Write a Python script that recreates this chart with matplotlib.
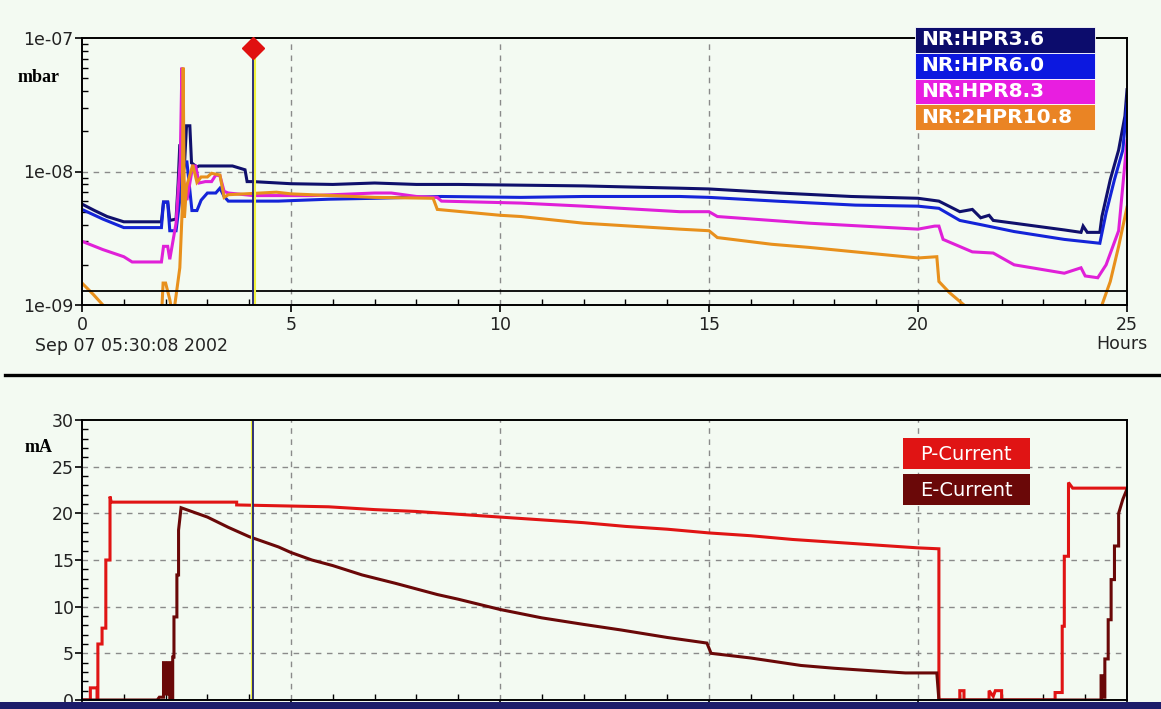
import numpy as np
import matplotlib.pyplot as plt
from matplotlib.patches import Rectangle
from matplotlib.lines import Line2D
from matplotlib.ticker import MultipleLocator, FixedLocator, LogLocator, FuncFormatter, NullFormatter

W, H = 1161, 709
BG = '#f3faf2'

# ---- pressure gauges (hours, mbar) ----
hpr36_t = [0, 0.3, 0.6, 1.0, 1.9, 1.95, 2.05, 2.1, 2.25, 2.3, 2.34, 2.38, 2.45, 2.5, 2.58, 2.62,
           2.75, 2.8, 3.6, 3.9, 3.95, 4.1, 5.0, 6.0, 7.0, 8.0, 9.0, 10.5, 12.0, 13.5, 14.3, 15.0,
           16.7, 18.4, 20.0, 20.5, 21.0, 21.3, 21.5, 21.7, 21.8, 22.3, 23.5, 23.9, 23.95, 24.05,
           24.35, 24.4, 24.6, 24.8, 24.95, 25.0]
hpr36_v = [5.7e-9, 5.1e-9, 4.6e-9, 4.2e-9, 4.2e-9, 5.9e-9, 5.9e-9, 4.3e-9, 4.4e-9, 8.2e-9, 1.6e-8,
           8.5e-9, 1.1e-8, 2.2e-8, 2.2e-8, 1.16e-8, 1.08e-8, 1.1e-8, 1.1e-8, 1.03e-8, 8.4e-9,
           8.4e-9, 8.1e-9, 8.0e-9, 8.2e-9, 8.0e-9, 8.0e-9, 7.9e-9, 7.8e-9, 7.6e-9, 7.5e-9, 7.4e-9,
           6.9e-9, 6.5e-9, 6.3e-9, 6.0e-9, 5.0e-9, 5.2e-9, 4.5e-9, 4.7e-9, 4.3e-9, 4.1e-9, 3.65e-9,
           3.5e-9, 3.9e-9, 3.5e-9, 3.5e-9, 4.6e-9, 8.7e-9, 1.45e-8, 2.6e-8, 4.1e-8]

hpr60_t = [0, 0.5, 1.0, 1.9, 1.95, 2.05, 2.1, 2.25, 2.35, 2.42, 2.51, 2.63, 2.75, 2.85, 3.0, 3.2,
           3.3, 3.4, 3.5, 4.1, 4.7, 5.9, 7.0, 8.6, 10.5, 12.0, 14.3, 15.0, 16.6, 18.5, 20.0, 20.5,
           21.0, 21.5, 22.3, 23.5, 24.35, 24.5, 24.7, 24.9, 25.0]
hpr60_v = [5.2e-9, 4.4e-9, 3.8e-9, 3.8e-9, 5.9e-9, 5.9e-9, 3.6e-9, 3.6e-9, 6.5e-9, 1.18e-8, 1.18e-8,
           5.1e-9, 5.1e-9, 6.1e-9, 6.9e-9, 6.9e-9, 7.5e-9, 6.5e-9, 6.0e-9, 6.0e-9, 6.0e-9, 6.2e-9,
           6.3e-9, 6.5e-9, 6.4e-9, 6.5e-9, 6.5e-9, 6.4e-9, 6.0e-9, 5.6e-9, 5.5e-9, 5.3e-9, 4.3e-9,
           4.0e-9, 3.55e-9, 3.1e-9, 2.9e-9, 4.9e-9, 8.7e-9, 1.45e-8, 3.2e-8]

hpr83_t = [0, 0.5, 1.0, 1.2, 1.9, 1.95, 2.05, 2.1, 2.25, 2.35, 2.39, 2.42, 2.51, 2.65, 2.72, 2.8,
           2.95, 3.1, 3.2, 3.3, 3.4, 3.5, 4.1, 5.5, 7.0, 7.4, 8.0, 8.5, 8.6, 10.5, 12.0, 14.3, 15.0,
           15.2, 17.4, 20.0, 20.4, 20.5, 20.6, 21.3, 21.8, 22.3, 23.5, 23.9, 24.0, 24.3, 24.5,
           24.8, 25.0]
hpr83_v = [3.0e-9, 2.6e-9, 2.3e-9, 2.1e-9, 2.1e-9, 2.75e-9, 2.75e-9, 2.2e-9, 4.1e-9, 1.2e-8, 6.0e-8,
           9.0e-9, 6.1e-9, 1.1e-8, 1.1e-8, 8.2e-9, 8.4e-9, 8.4e-9, 9.4e-9, 9.3e-9, 7.1e-9, 6.9e-9,
           6.6e-9, 6.6e-9, 6.9e-9, 6.9e-9, 6.5e-9, 6.4e-9, 6.0e-9, 5.8e-9, 5.5e-9, 5.0e-9, 5.0e-9,
           4.6e-9, 4.1e-9, 3.7e-9, 3.9e-9, 3.9e-9, 3.1e-9, 2.5e-9, 2.45e-9, 2.0e-9, 1.73e-9, 1.9e-9,
           1.65e-9, 1.6e-9, 2.0e-9, 3.6e-9, 1.7e-8]

hpr108_t = [0, 0.27, 0.5, 0.8, 1.9, 1.94, 2.0, 2.1, 2.15, 2.22, 2.34, 2.4, 2.42, 2.45, 2.5, 2.65,
            2.75, 2.85, 3.0, 3.1, 3.3, 3.4, 3.5, 4.65, 5.0, 7.0, 8.4, 8.5, 10.0, 10.5, 12.0, 14.3,
            15.0, 15.2, 16.5, 17.4, 20.0, 20.45, 20.5, 20.75, 21.1, 21.4, 24.3, 24.4, 24.6, 24.8,
            25.0]
hpr108_v = [1.46e-9, 1.2e-9, 1.0e-9, 8e-10, 8e-10, 1.46e-9, 1.46e-9, 1.1e-9, 9e-10, 1.0e-9, 1.9e-9,
            5.4e-9, 6.0e-8, 4.5e-9, 7.7e-9, 1.12e-8, 8.3e-9, 9.1e-9, 9.1e-9, 9.7e-9, 9.4e-9, 6.4e-9,
            6.7e-9, 7.0e-9, 6.8e-9, 6.4e-9, 6.3e-9, 5.2e-9, 4.7e-9, 4.6e-9, 4.1e-9, 3.7e-9, 3.6e-9,
            3.2e-9, 2.85e-9, 2.7e-9, 2.25e-9, 2.3e-9, 1.5e-9, 1.24e-9, 1.0e-9, 8e-10, 8e-10, 1.0e-9,
            1.5e-9, 2.75e-9, 5.4e-9]

gauges = [('NR:HPR3.6', hpr36_t, hpr36_v, '#10106c', '#0c0c6c'),
          ('NR:HPR6.0', hpr60_t, hpr60_v, '#1424d8', '#0c18e0'),
          ('NR:HPR8.3', hpr83_t, hpr83_v, '#e020d8', '#e81ee0'),
          ('NR:2HPR10.8', hpr108_t, hpr108_v, '#e8901c', '#ea8424')]

# ---- ion pump currents (hours, mA) ----
p_cur_t = [0, 0.2, 0.2, 0.36, 0.36, 0.38, 0.38, 0.48, 0.48, 0.57, 0.57, 0.67, 0.67, 0.7, 3.7,
           3.7, 5.9, 7.0, 8.0, 9.0, 10.0, 11.0, 12.0, 13.0, 14.0, 15.0, 16.0, 17.0, 18.0, 19.0,
           20.0, 20.5, 20.5, 21.0, 21.0, 21.1, 21.1, 21.7, 21.7, 21.8, 21.85, 22.0, 22.0, 23.28,
           23.28, 23.45, 23.45, 23.5, 23.5, 23.6, 23.6, 23.7, 25.0]
p_cur_v = [0, 0, 1.3, 1.3, 0, 0, 6.0, 6.0, 7.7, 7.7, 15.0, 15.0, 21.8, 21.2, 21.2, 20.9, 20.7,
           20.4, 20.2, 19.9, 19.6, 19.3, 19.0, 18.6, 18.3, 17.9, 17.6, 17.2, 16.9, 16.6, 16.3, 16.2,
           0, 0, 1.0, 1.0, 0, 0, 1.0, 0.4, 1.0, 1.0, 0, 0, 0.8, 0.8, 7.9, 7.9, 15.4, 15.4, 23.3,
           22.7, 22.7]

e_cur_t = [0, 1.8, 1.85, 1.95, 1.95, 1.99, 2.03, 2.06, 2.1, 2.1, 2.17, 2.17, 2.2, 2.2, 2.27,
           2.27, 2.31, 2.31, 2.37, 3.0, 3.5, 4.0, 4.7, 5.0, 5.5, 6.0, 6.7, 7.5, 8.5, 9.0, 10.0,
           11.0, 12.0, 12.9, 14.0, 14.95, 15.05, 16.0, 17.2, 18.0, 19.0, 19.7, 20.45, 20.5,
           24.38, 24.38, 24.43, 24.43, 24.47, 24.47, 24.55, 24.55, 24.62, 24.62, 24.7, 24.7,
           24.8, 24.8, 24.9, 25.0]
e_cur_v = [0, 0, 0.3, 0.3, 4.0, 4.0, 0.5, 4.0, 4.0, 0, 0, 4.6, 4.6, 8.9, 8.9, 13.4, 13.4,
           18.2, 20.6, 19.6, 18.5, 17.5, 16.4, 15.8, 15.0, 14.4, 13.4, 12.5, 11.3, 10.8, 9.7, 8.8,
           8.1, 7.5, 6.7, 6.1, 5.0, 4.5, 3.7, 3.4, 3.1, 2.9, 2.9, 0, 0, 2.6, 2.6, 0.3, 0.3, 4.4,
           4.4, 8.6, 8.6, 12.9, 12.9, 16.5, 16.5, 20.0, 21.5, 22.6]

currents = [('P-Current', p_cur_t, p_cur_v, '#e01414'),
            ('E-Current', e_cur_t, e_cur_v, '#6a0808')]

cursor_hour = 4.1
start_label = 'Sep 07 05:30:08 2002'
hour_ticks = [0, 5, 10, 15, 20, 25]


def fx(px):
    return px / W


def fy(py):
    return 1 - py / H


plt.rcParams['font.family'] = ['DejaVu Sans']
fig = plt.figure(figsize=(W / 100, H / 100), dpi=100, facecolor=BG)

ax1 = fig.add_axes([fx(82), fy(305), fx(1127) - fx(82), fy(38) - fy(305)], facecolor=BG)
ax2 = fig.add_axes([fx(82), fy(700), fx(1127) - fx(82), fy(420) - fy(700)], facecolor=BG)

grid_kw = dict(color='#8a8a8a', linestyle=(0, (4, 4)), linewidth=1.0)

# top panel: pressures
for name, t, v, lc, bc in gauges:
    ax1.plot(t, v, color=lc, lw=2.2, solid_joinstyle='miter')
ax1.set_yscale('log')
ax1.set_ylim(1e-9, 1e-7)
ax1.set_xlim(0, 25)
ax1.axhline(1.27e-9, color='black', lw=1.3)
ax1.axvline(cursor_hour + 0.04, color='#f0f040', lw=1.5)
ax1.axvline(cursor_hour, color='#202070', lw=1.3)
ax1.plot([cursor_hour], [8.4e-8], marker='D', ms=11, color='#e01010', clip_on=False, zorder=5)
ax1.yaxis.set_major_locator(FixedLocator([1e-9, 1e-8, 1e-7]))
ax1.yaxis.set_minor_locator(LogLocator(base=10, subs=np.arange(2, 10)))
ax1.yaxis.set_minor_formatter(NullFormatter())
ax1.yaxis.set_major_formatter(FuncFormatter(lambda v, _: f'{v:.0e}'))
for x in hour_ticks[1:-1]:
    ax1.axvline(x, **grid_kw, zorder=0)
ax1.axhline(1e-8, **grid_kw, zorder=0)
ax1.set_xticks(hour_ticks)
ax1.xaxis.set_minor_locator(MultipleLocator(1))

# bottom panel: currents
for name, t, v, c in currents:
    ax2.plot(t, v, color=c, lw=2.2, solid_joinstyle='miter')
ax2.set_xlim(0, 25)
ax2.set_ylim(0, 30)
ax2.axvline(cursor_hour - 0.04, color='#f0f040', lw=1.5)
ax2.axvline(cursor_hour, color='#202070', lw=1.3)
for x in hour_ticks[1:-1]:
    ax2.axvline(x, **grid_kw, zorder=0)
for y in [5, 10, 15, 20, 25]:
    ax2.axhline(y, **grid_kw, zorder=0)
ax2.set_yticks([0, 5, 10, 15, 20, 25, 30])
ax2.yaxis.set_minor_locator(MultipleLocator(1))
ax2.set_xticks(hour_ticks)
ax2.xaxis.set_minor_locator(MultipleLocator(1))
ax2.tick_params(axis='x', labelbottom=False)

for ax in (ax1, ax2):
    for s in ax.spines.values():
        s.set_color('black')
        s.set_linewidth(1.4)
    ax.tick_params(which='major', direction='out', length=5, width=1.2, pad=1,
                   labelsize=12.5, labelcolor='#222222')
    ax.tick_params(which='minor', direction='in', length=4, width=1.0)
ax1.tick_params(axis='x', pad=3)

fig.text(fx(18), fy(77), 'mbar', family='Liberation Serif', weight='bold', fontsize=13, va='center')
fig.text(fx(25), fy(448), 'mA', family='Liberation Serif', weight='bold', fontsize=13, va='center')
fig.text(fx(35), fy(346), start_label, fontsize=12.5, color='#222222', va='center')
fig.text(fx(1122), fy(344), 'Hours', fontsize=12.5, color='#222222', va='center', ha='center')

# legend boxes
row_h = 25.8
for i, (name, t, v, lc, bc) in enumerate(gauges):
    top = 27 + i * row_h
    fig.patches.append(Rectangle((fx(915), fy(top + row_h)), fx(180), row_h / H,
                                 transform=fig.transFigure, facecolor=bc, edgecolor='white', lw=0.6))
    fig.text(fx(921), fy(top + row_h / 2), name, color='white', fontsize=14.5, weight='bold',
             va='center', ha='left')

for i, (name, t, v, c) in enumerate(currents):
    top = 438 + i * 36
    fig.patches.append(Rectangle((fx(903), fy(top + 31)), fx(127), 31 / H,
                                 transform=fig.transFigure, facecolor=c, edgecolor='none'))
    fig.text(fx(966), fy(top + 16), name, color='white', fontsize=14, va='center', ha='center')

# separator and bottom band
fig.add_artist(Line2D([fx(5), fx(1161)], [fy(375), fy(375)], color='black', lw=2.4,
                      transform=fig.transFigure))
fig.patches.append(Rectangle((0, 0), 1, 7 / H, transform=fig.transFigure,
                             facecolor='#1c1c6a', edgecolor='none'))

fig.savefig('out.png', dpi=100, facecolor=BG)
